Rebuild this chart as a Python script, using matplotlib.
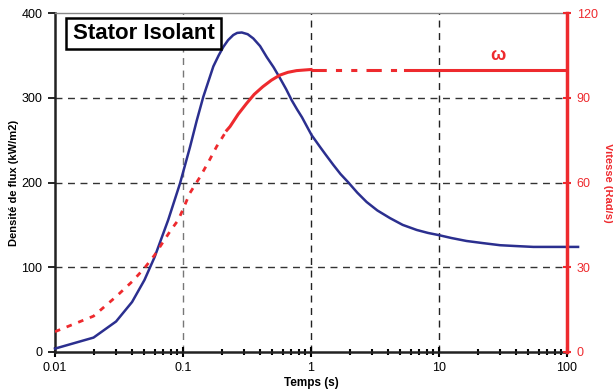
import matplotlib
matplotlib.use("Agg")
import matplotlib.pyplot as plt
from matplotlib.patches import Rectangle
import numpy as np

plt.rcParams['font.family'] = ['Liberation Sans', 'DejaVu Sans']

# Data
t_flux = [0.01, 0.02, 0.03, 0.04, 0.05, 0.06, 0.0767, 0.0948, 0.1135, 0.128,
          0.144, 0.1726, 0.19, 0.2066, 0.225, 0.247, 0.265, 0.288, 0.32, 0.354,
          0.4, 0.451, 0.51, 0.573, 0.64, 0.707, 0.78, 0.85, 0.93, 1.01, 1.176,
          1.3, 1.49, 1.7, 1.96, 2.3, 2.72, 3.3, 4.14, 5.2, 6.7, 8.2, 9.9, 12.5,
          16.4, 22, 30, 40, 54.6, 75, 100, 122]
flux = [4, 17, 36, 59, 85, 112, 156, 199, 242, 273, 301, 337, 350, 360, 368,
        374, 376.5, 377, 375, 370, 361, 348, 336, 323, 310, 297, 286, 277, 266,
        256, 242, 233, 221, 210, 200, 188, 177, 167, 158, 150, 144, 140.5,
        138, 134.5, 131, 128.5, 126, 125, 124, 124, 124, 124]

t_speed = [0.01, 0.02, 0.03, 0.04, 0.05, 0.06, 0.07, 0.08, 0.0917, 0.1, 0.113,
           0.136, 0.16, 0.183, 0.22, 0.233, 0.27, 0.314, 0.36, 0.42, 0.49,
           0.57, 0.66, 0.77, 1, 2, 5.4, 10, 100]
speed = [7.2, 12.7, 19.6, 24.9, 29.7, 34.3, 39, 43, 46.7, 50.5, 56.2, 62, 67.7,
         72.7, 78.5, 79.8, 84.2, 88, 91.2, 93.9, 96.2, 98, 99, 99.6, 100, 100,
         100, 100, 100]

xticks = [0.01, 0.1, 1, 10, 100]
xticklabels = ['0.01', '0.1', '1', '10', '100']
yticks_left = [0, 100, 200, 300, 400]
yticks_right = [0, 30, 60, 90, 120]

red = '#ee2a2e'
blue = '#2b2f8f'

fig = plt.figure(figsize=(6.13, 3.92), dpi=100)
ax = fig.add_axes([55/613, 40/392, 512/613, 339/392])
ax2 = ax.twinx()

ax.set_xscale('log')
ax.set_xlim(0.01, 100)
ax.set_ylim(0, 400)
ax2.set_ylim(0, 120)

# grid
for xv, c in [(0.1, '#777777'), (1, '#222222'), (10, '#222222')]:
    ax.axvline(xv, color=c, lw=1, ls=(0, (5, 4)), zorder=1)
for yv in [100, 200, 300]:
    ax.axhline(yv, color='#333333', lw=1, ls=(0, (5, 4)), zorder=1)

# blue flux curve
ax.plot(t_flux, flux, color=blue, lw=1.8, clip_on=False, zorder=3,
        solid_joinstyle='round')

# red speed curve with segments
ts = np.array(t_speed)
sp = np.array(speed)
m1 = ts <= 0.22
m2 = (ts >= 0.22) & (ts <= 1)
m3 = (ts >= 1) & (ts <= 5.4)
m4 = ts >= 5.4
ax2.plot(ts[m1], sp[m1], color=red, lw=2, ls=(0, (2, 2.5)), zorder=3)
ax2.plot(ts[m2], sp[m2], color=red, lw=2.2, ls='-', zorder=3,
         solid_joinstyle='round')
ax2.plot(ts[m3], sp[m3], color=red, lw=2.2, ls=(0, (5, 3, 2, 3, 2, 3)), zorder=3)
ax2.plot(ts[m4], sp[m4], color=red, lw=2.2, ls='-', zorder=3)

ax2.text(29, 105, 'ω', color=red, fontsize=13, fontweight='bold',
         ha='center', va='center')

# ticks
ax.set_xticks(xticks)
ax.set_xticklabels(xticklabels)
ax.set_yticks(yticks_left)
ax2.set_yticks(yticks_right)
ax.tick_params(axis='x', which='major', direction='inout', length=7, width=1.5,
               labelsize=9, pad=4)
ax.tick_params(axis='x', which='minor', direction='inout', length=5, width=1.5)
ax.tick_params(axis='y', which='major', direction='out', length=5, width=1.2,
               labelsize=9, pad=4)
ax2.tick_params(axis='y', which='major', direction='inout', length=6, width=1.5,
                colors=red, labelsize=9, pad=4)

for s in ['left', 'bottom']:
    ax.spines[s].set_linewidth(1.8)
    ax.spines[s].set_color('#222222')
ax.spines['top'].set_color('#888888')
ax.spines['top'].set_linewidth(1)
ax2.spines['top'].set_visible(False)
ax2.spines['left'].set_visible(False)
ax2.spines['bottom'].set_visible(False)
ax.spines['right'].set_visible(False)
ax2.spines['right'].set_color(red)
ax2.spines['right'].set_linewidth(2.5)

ax.set_ylabel('Densité de flux (kW/m2)', fontsize=8, fontweight='bold',
              va='center')
ax.yaxis.set_label_coords(-0.080, 0.5)
ax2.set_ylabel('Vitesse (Rad/s)', fontsize=8, fontweight='bold', color=red,
               rotation=270, va='center')
ax2.yaxis.set_label_coords(1.080, 0.5)
ax.set_xlabel('Temps (s)', fontsize=8.5, fontweight='bold', labelpad=2)

# title box
ax.add_patch(Rectangle((11/512, (352-49)/339), 155/512, 31/339,
                       transform=ax.transAxes, fc='white', ec='black', lw=1.8,
                       zorder=5, clip_on=False))
ax.text((11 + 77.5)/512, (352-33.5)/339, 'Stator Isolant',
        transform=ax.transAxes, fontsize=16, fontweight='bold',
        ha='center', va='center', zorder=6)

fig.savefig('out.png', dpi=100)
